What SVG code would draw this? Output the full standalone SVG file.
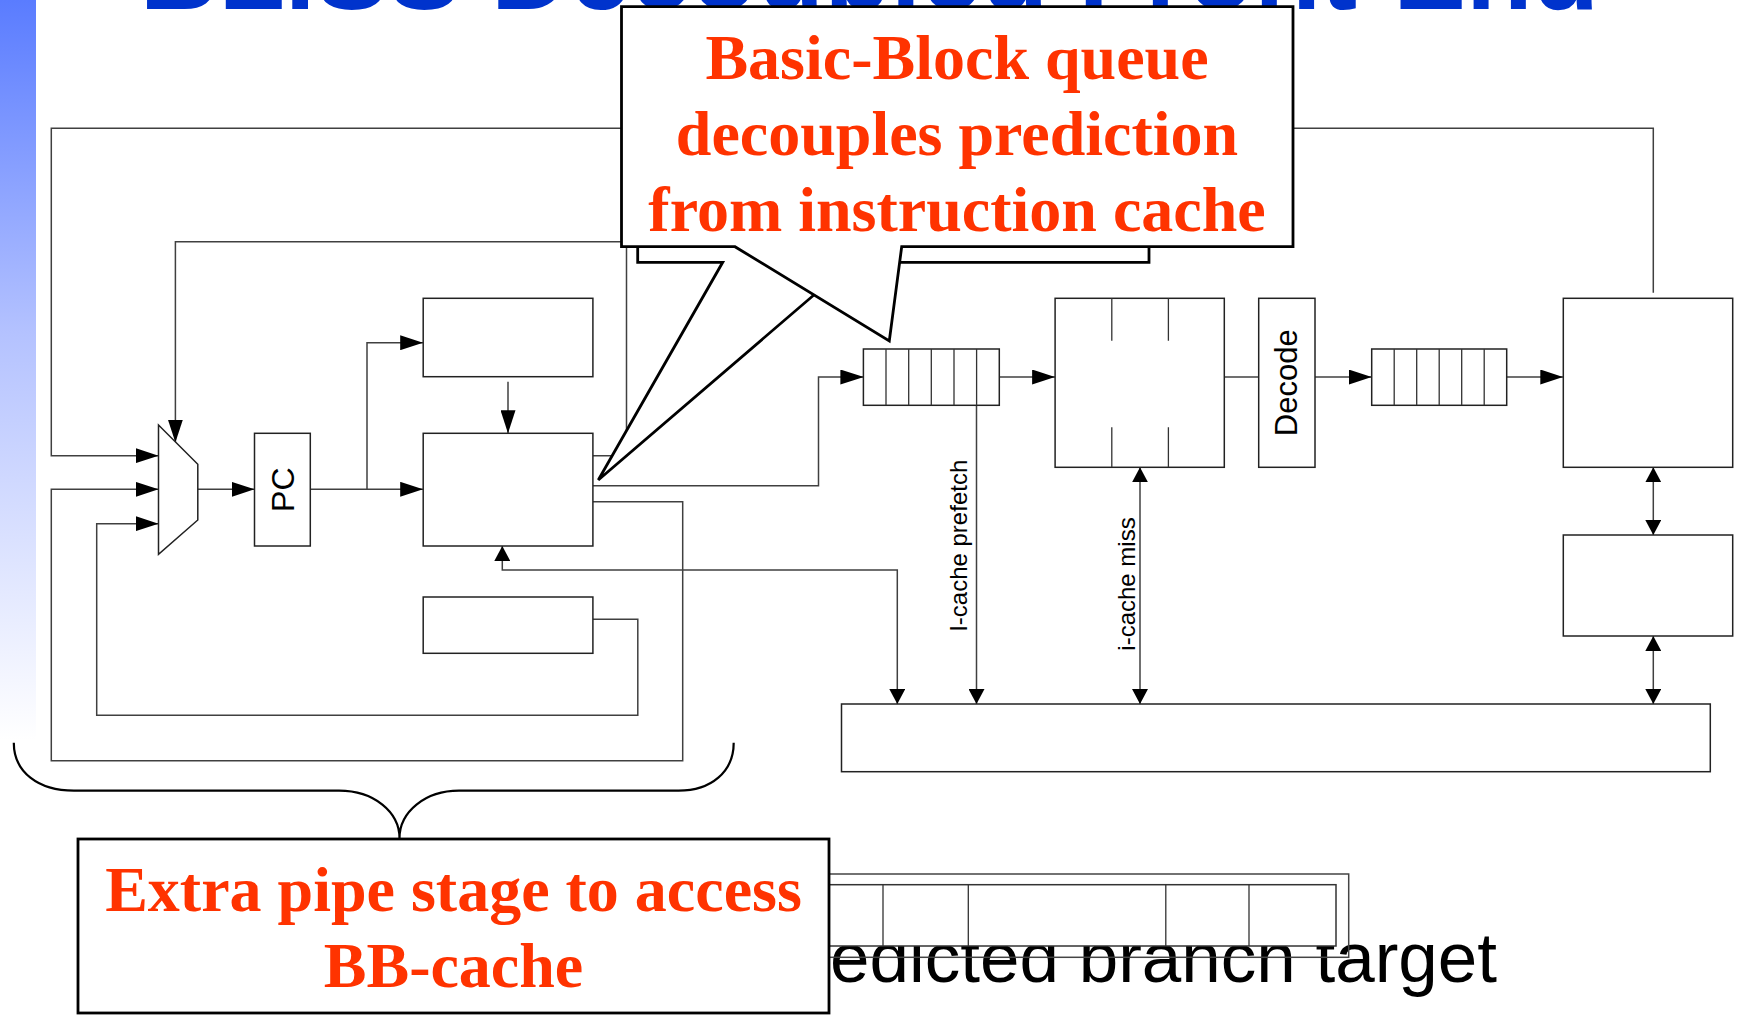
<svg xmlns="http://www.w3.org/2000/svg" width="1739" height="1015" viewBox="0 0 1739 1015">
<defs>
<linearGradient id="bar" gradientUnits="userSpaceOnUse" x1="0" y1="0" x2="0" y2="740">
<stop offset="0" stop-color="#5a7cff"/>
<stop offset="0.45" stop-color="#b4c2ff"/>
<stop offset="1" stop-color="#ffffff"/>
</linearGradient>
<marker id="a1" viewBox="0 0 23 15" refX="23" refY="7.5" markerWidth="23" markerHeight="15" markerUnits="userSpaceOnUse" orient="auto-start-reverse"><path d="M0 0 L23 7.5 L0 15 Z" fill="#000"/></marker>
<marker id="a2" viewBox="0 0 15 16" refX="15" refY="8" markerWidth="15" markerHeight="16" markerUnits="userSpaceOnUse" orient="auto-start-reverse"><path d="M0 0 L15 8 L0 16 Z" fill="#000"/></marker>
</defs>
<style>
.ln{fill:none;stroke:#404040;stroke-width:1.5}
.bx{fill:#fff;stroke:#222;stroke-width:1.5}
.dv{fill:none;stroke:#333;stroke-width:1.3}
.lbl{font-family:"Liberation Sans",Arial,sans-serif;fill:#000}
.call{fill:#fff;stroke:#000;stroke-width:2.8}
.ct{font-family:"Liberation Serif","Times New Roman",serif;font-weight:bold;font-size:64px;fill:#ff3300;text-anchor:middle}
.a1{marker-end:url(#a1)}
.a2{marker-end:url(#a2)}
.a22{marker-start:url(#a2);marker-end:url(#a2)}
</style>
<rect x="0" y="0" width="36" height="740" fill="url(#bar)"/>
<text x="869.5" y="9" text-anchor="middle" font-family="Liberation Sans,Arial,sans-serif" font-weight="bold" font-size="109" fill="#0033cc">BLISS Decoupled Front-End</text>

<g id="connectors">
<path class="ln a1" d="M1653.3 292.7 V128.3 H51.3 V455.7 H158.5"/>
<path class="ln a1" d="M593 455.7 H626.5 V241.7 H175.4 V442.5"/>
<path class="ln a1" d="M593 501.7 H682.7 V760.7 H51.3 V489.3 H158.5"/>
<path class="ln a1" d="M593 619.3 H637.8 V715.3 H96.7 V523.7 H158.5"/>
<path class="ln a1" d="M197.8 489.3 H254.5"/>
<path class="ln a1" d="M310.3 489.3 H423.2"/>
<path class="ln a1" d="M367 489.3 V342.7 H423.2"/>
<path class="ln a1" d="M508 381.7 V433.3"/>
<path class="ln a1" d="M593 485.7 H818.5 V377 H863.4"/>
<path class="ln a1" d="M999.3 377 H1055.1"/>
<path class="ln" d="M1224.3 377 H1258.7"/>
<path class="ln a1" d="M1315 377 H1371.7"/>
<path class="ln a1" d="M1506.7 377 H1563.3"/>
<path class="ln a22" d="M502.3 546 V570 H897.3 V704"/>
<path class="ln a2" d="M976.5 405.3 V704"/>
<path class="ln a22" d="M1140 467.3 V704"/>
<path class="ln a22" d="M1653.3 467.3 V535"/>
<path class="ln a22" d="M1653.3 636 V704"/>
</g>

<g id="mux"><path class="bx" d="M158.5 425 L197.8 464.3 V520 L158.5 554.3 Z"/></g>
<g id="pc"><rect class="bx" x="254.5" y="433.3" width="55.8" height="112.7"/>
<text class="lbl" font-size="32" text-anchor="middle" transform="translate(293.5 489.7) rotate(-90)">PC</text></g>
<g id="btb"><rect class="bx" x="423.2" y="298.3" width="169.7" height="78.4"/></g>
<g id="predictor"><rect class="bx" x="423.2" y="433.3" width="169.7" height="112.7"/></g>
<g id="ras"><rect class="bx" x="423.2" y="597" width="169.7" height="56.3"/></g>
<g id="bbqueue"><rect class="bx" x="863.4" y="349" width="135.9" height="56.3"/>
<path class="dv" d="M886 349 V405.3 M908.7 349 V405.3 M931.3 349 V405.3 M954 349 V405.3 M976.6 349 V405.3"/></g>
<g id="icache"><rect class="bx" x="1055.1" y="298.3" width="169.2" height="169"/>
<path class="dv" d="M1111.8 298.3 V340.7 M1168.4 298.3 V340.7 M1111.8 427.3 V467.3 M1168.4 427.3 V467.3"/></g>
<g id="decode"><rect class="bx" x="1258.7" y="298.3" width="56.3" height="169"/>
<text class="lbl" font-size="31" text-anchor="middle" transform="translate(1297 382.8) rotate(-90)">Decode</text></g>
<g id="iqueue"><rect class="bx" x="1371.7" y="349" width="135" height="56.3"/>
<path class="dv" d="M1394.2 349 V405.3 M1416.7 349 V405.3 M1439.2 349 V405.3 M1461.7 349 V405.3 M1484.2 349 V405.3"/></g>
<g id="exec"><rect class="bx" x="1563.3" y="298.3" width="169.4" height="169"/></g>
<g id="dcache"><rect class="bx" x="1563.3" y="535" width="169.4" height="101"/></g>
<g id="l2"><rect class="bx" x="841.5" y="704" width="868.8" height="67.7"/></g>
<g id="labels">
<text class="lbl" font-size="24" text-anchor="middle" transform="translate(967 545.8) rotate(-90)">I-cache prefetch</text>
<text class="lbl" font-size="24" text-anchor="middle" transform="translate(1135 584) rotate(-90)">i-cache miss</text>
</g>

<g id="callout-back"><path class="call" d="M637.7 30 H1149 V262.3 H852 L598.3 480 L722.7 262.3 H637.7 Z"/></g>
<g id="callout-top"><path class="call" d="M621.5 6.7 H1293 V246.7 H901.7 L889.3 341 L735 246.7 H621.5 Z"/>
<text class="ct" x="957" y="79">Basic-Block queue</text>
<text class="ct" x="957" y="155">decouples prediction</text>
<text class="ct" x="957" y="231">from instruction cache</text></g>

<g id="bullet"><text class="lbl" x="759" y="981.5" font-size="71">Predicted branch target</text></g>
<g id="bbdesc">
<rect x="600" y="874" width="748.7" height="83.3" fill="none" stroke="#444" stroke-width="1.5"/>
<rect x="610" y="884.7" width="726" height="61.3" fill="#fff" stroke="#333" stroke-width="1.5"/>
<path class="dv" d="M883 884.7 V946 M968.3 884.7 V946 M1165.8 884.7 V946 M1249 884.7 V946"/>
</g>

<g id="brace"><path fill="none" stroke="#000" stroke-width="2.2" d="M13.8 742.7 C13.8 772 38 790.7 74 790.7 H339 C374 790.7 399.5 812 399.5 838.3 C399.5 812 425 790.7 459 790.7 H678.6 C711 790.7 733.7 772 733.7 742.7"/></g>
<g id="callout-bottom"><rect class="call" x="78" y="839" width="751" height="174"/>
<text class="ct" x="453.5" y="910.7">Extra pipe stage to access</text>
<text class="ct" x="453.5" y="987.3">BB-cache</text></g>
</svg>
